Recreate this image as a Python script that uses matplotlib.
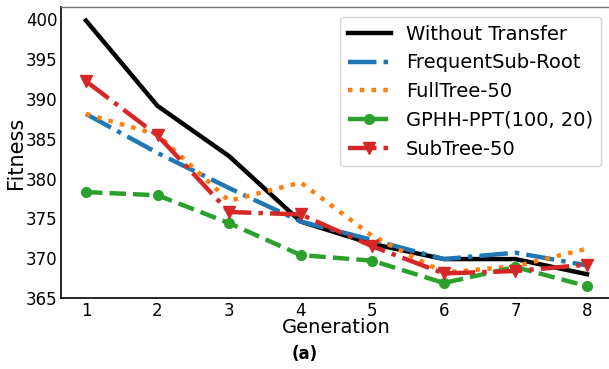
import numpy as np
import matplotlib.pyplot as plt

generations = [1, 2, 3, 4, 5, 6, 7, 8]
without_transfer = [399.8, 389.1, 382.8, 374.6, 371.8, 369.9, 369.9, 368.0]
frequent_sub_root = [388.1, 383.2, 378.8, 374.6, 372.3, 369.9, 370.7, 369.1]
full_tree_50 = [388.1, 385.5, 377.2, 379.5, 372.8, 368.2, 369.0, 371.2]
gphh_ppt = [378.3, 377.9, 374.4, 370.4, 369.7, 366.9, 368.9, 366.5]
sub_tree_50 = [392.2, 385.4, 375.8, 375.5, 371.5, 368.1, 368.4, 369.2]

fig = plt.figure(figsize=(6.09, 3.69), dpi=100)
ax = fig.add_axes([0.100, 0.192, 0.905, 0.789])

lw = 3.2
ax.plot(generations, without_transfer, color='black', lw=lw, ls='-', label='Without Transfer')
ax.plot(generations, frequent_sub_root, color='#1f77b4', lw=lw, ls='-.', label='FrequentSub-Root')
ax.plot(generations, full_tree_50, color='#ff7f0e', lw=lw, ls=':', label='FullTree-50')
ax.plot(generations, gphh_ppt, color='#2ca02c', lw=lw, ls='--', marker='o', ms=7,
        label='GPHH-PPT(100, 20)')
ax.plot(generations, sub_tree_50, color='#d62728', lw=lw, ls='-.', marker='v', ms=8,
        label='SubTree-50')

ax.set_xlim(0.65, 8.35)
ax.set_ylim(365, 401.5)
ax.set_xticks(generations)
ax.set_yticks(np.arange(365, 401, 5))
ax.tick_params(length=0, labelsize=12, pad=2.5)

ax.spines['right'].set_visible(False)
ax.spines['top'].set_color('#777777')
ax.spines['top'].set_linewidth(1.0)
for s in ['left', 'bottom']:
    ax.spines[s].set_color('black')
    ax.spines[s].set_linewidth(1.2)

ax.set_xlabel('Generation', fontsize=14)
ax.set_ylabel('Fitness', fontsize=15)
ax.xaxis.set_label_coords(0.5, -0.068)
ax.yaxis.set_label_coords(-0.064, 0.5)

# legend box roughly x 340-601, y 17-166 px in the reference
ax.legend(loc='upper right', fontsize=14, frameon=True, fancybox=True,
          handlelength=2.2, borderaxespad=0, bbox_to_anchor=(0.98, 0.966))

fig.text(0.5, 0.04, '(a)', ha='center', va='center', fontsize=12, fontweight='bold')

fig.savefig('out.png', dpi=100)
